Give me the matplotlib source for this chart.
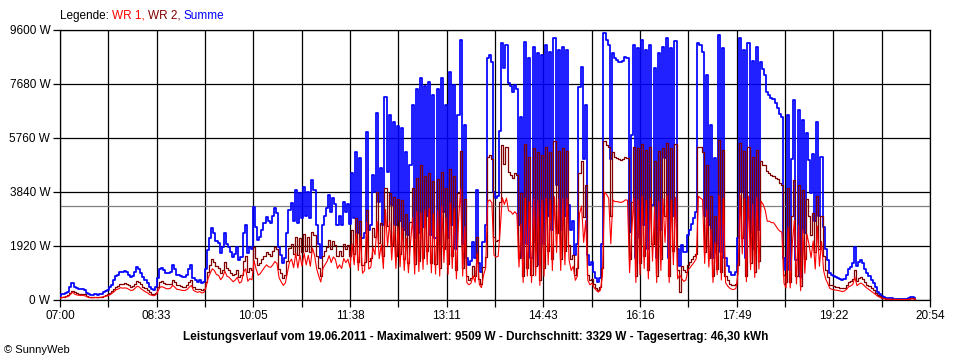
import numpy as np
import matplotlib
matplotlib.use("Agg")
import matplotlib.pyplot as plt

plt.rcParams['font.family'] = ['Liberation Sans', 'DejaVu Sans']

# Leistung in W, alle 2 Minuten ab 07:00 (eine Zeile = eine Stunde)
wr2 = [
    90, 110, 120, 140, 170, 250, 320, 270, 240, 230, 220, 220, 200, 140, 110, 100, 100, 110, 100, 110, 120, 160, 190, 200, 260, 310, 400, 480, 510, 560,
    580, 600, 580, 520, 480, 500, 580, 680, 640, 560, 480, 410, 350, 270, 230, 200, 260, 470, 640, 660, 610, 560, 560, 580, 720, 640, 520, 520, 500, 480,
    480, 520, 640, 720, 460, 400, 380, 400, 350, 380, 650, 1000, 1250, 1450, 1350, 1200, 1150, 950, 1080, 1350, 1150, 1080, 970, 880, 940, 1080, 820, 880, 1400, 1560,
    1000, 1130, 1080, 1900, 1500, 1250, 1300, 1450, 1580, 1700, 1620, 1580, 1750, 1900, 1800, 1100, 950, 800, 900, 1400, 1850, 2000, 1650, 2250, 1600, 2200, 1700, 2350, 1750, 2250,
    1700, 2420, 2300, 1550, 1150, 850, 1550, 1750, 1900, 2150, 1800, 2100, 1950, 1550, 1750, 1550, 2000, 1800, 1950, 1550, 2500, 1650, 2900, 1350, 2800, 1250, 1350, 3200, 1400, 1500,
    2570, 2230, 3850, 2030, 2730, 1550, 4000, 2640, 3800, 1960, 3670, 1550, 3600, 1620, 3550, 1450, 3050, 1330, 2780, 4000, 1280, 4350, 1390, 4800, 1510, 4400, 1740, 4500, 1330, 4230,
    1280, 4300, 1150, 4550, 1800, 4000, 1280, 4650, 1550, 4400, 1050, 3800, 5300, 1150, 3600, 870, 700, 800, 1200, 870, 2250, 750, 560, 1180, 1540, 5100, 5150, 5000, 2250, 2100,
    2150, 3500, 5500, 4850, 5450, 4550, 4450, 4350, 4500, 4450, 1500, 3800, 870, 5550, 1150, 5100, 880, 5400, 1200, 5250, 720, 5150, 1150, 5450, 1750, 5250, 1450, 5650, 2400, 5300,
    1450, 5400, 1750, 5300, 1950, 1450, 1600, 900, 1150, 4500, 4950, 2950, 4100, 900, 700, 750, 560, 430, 360, 450, 1150, 5650, 5500, 5450, 3000, 5250, 5100, 5050, 5000, 4980,
    5000, 5080, 5050, 1450, 3500, 5450, 870, 5400, 1300, 5550, 1550, 5350, 1050, 5450, 2000, 4950, 870, 5300, 1450, 5400, 3000, 5600, 870, 5400, 1750, 5550, 1050, 300, 1200, 1050,
    1000, 1250, 1350, 1450, 1550, 1650, 5450, 5450, 5250, 1700, 4800, 1500, 3700, 870, 3000, 1100, 5700, 1000, 5350, 870, 700, 580, 520, 520, 580, 1250, 5600, 2200, 5300, 850,
    5450, 1300, 5100, 1000, 5350, 1400, 4950, 4800, 4800, 4600, 4500, 4450, 4400, 4350, 4300, 4150, 4100, 900, 640, 4000, 640, 3000, 4270, 850, 4100, 490, 3900, 1450, 3600, 3000,
    2300, 3100, 1700, 3700, 1800, 3000, 1550, 1050, 830, 550, 520, 490, 470, 460, 440, 420, 430, 520, 630, 670, 750, 1080, 690, 780, 820, 750, 630, 550, 490, 410,
    350, 260, 170, 125, 85, 55, 45, 40, 35, 35, 30, 30, 25, 25, 25, 25, 25, 35, 65, 60, 35,
]
wr1 = [
    60, 90, 100, 110, 130, 200, 280, 210, 180, 170, 160, 160, 150, 110, 90, 80, 80, 90, 80, 90, 100, 120, 140, 150, 190, 240, 300, 370, 390, 440,
    420, 430, 420, 380, 340, 350, 420, 490, 460, 390, 340, 290, 250, 190, 170, 150, 190, 330, 460, 470, 440, 400, 400, 420, 520, 460, 380, 370, 350, 340,
    340, 380, 460, 520, 340, 300, 270, 300, 250, 270, 450, 780, 950, 1110, 1050, 900, 880, 720, 820, 1030, 850, 810, 730, 650, 710, 810, 600, 650, 1000, 1110,
    670, 760, 720, 1400, 1100, 880, 940, 1050, 1160, 1250, 1180, 1160, 1250, 1370, 1300, 790, 650, 520, 600, 980, 1350, 1450, 1150, 1660, 1140, 1600, 1200, 1670, 1250, 1590,
    1200, 1850, 1600, 1120, 850, 640, 1120, 1250, 1370, 1580, 1330, 1530, 1450, 1120, 1250, 1120, 1480, 1330, 1450, 1150, 2000, 1250, 2360, 1050, 2250, 950, 1050, 2770, 1100, 1170,
    1870, 1610, 2800, 1470, 1970, 1120, 3220, 1910, 2780, 1420, 2660, 1120, 2600, 1180, 2570, 1050, 2210, 970, 2020, 2930, 920, 3150, 1010, 3100, 1090, 3200, 1260, 3250, 970, 3070,
    920, 3200, 850, 3340, 1330, 2930, 920, 3460, 1120, 3240, 750, 2780, 3950, 850, 2620, 620, 540, 600, 860, 630, 1660, 550, 440, 880, 1130, 3500, 3560, 3460, 1590, 1530,
    1550, 2500, 3640, 3400, 3620, 3170, 3150, 3050, 3140, 3050, 1170, 2700, 620, 3620, 850, 3500, 620, 3600, 860, 3550, 520, 3550, 850, 3620, 1250, 3570, 1050, 3670, 1690, 3590,
    1050, 3600, 1250, 3600, 1430, 1050, 1200, 700, 850, 3070, 3340, 2050, 2830, 700, 540, 600, 440, 350, 280, 350, 850, 3840, 3750, 3620, 2000, 3550, 3500, 3500, 3480, 3470,
    3500, 3560, 3550, 970, 2370, 3620, 620, 3560, 900, 3700, 1120, 3540, 750, 3620, 1380, 3300, 620, 3500, 1050, 3600, 2050, 3720, 620, 3560, 1250, 3650, 750, 900, 760, 660,
    710, 1060, 1150, 1250, 1350, 1480, 3690, 3620, 3570, 1300, 3200, 1170, 2520, 620, 2050, 900, 3720, 710, 3610, 620, 500, 420, 380, 370, 420, 950, 3720, 1640, 3600, 650,
    3690, 1080, 3400, 800, 3650, 1100, 3510, 3400, 3200, 2800, 2800, 2750, 2750, 2650, 2530, 2450, 2410, 600, 430, 2580, 430, 2000, 2840, 570, 2660, 330, 2500, 950, 2340, 1980,
    1500, 2100, 1100, 2630, 1200, 2080, 1050, 750, 590, 410, 380, 360, 350, 340, 320, 300, 320, 380, 470, 500, 550, 810, 510, 570, 600, 550, 470, 410, 360, 300,
    250, 190, 130, 95, 65, 45, 35, 30, 25, 25, 20, 20, 15, 15, 15, 15, 15, 25, 45, 40, 25,
]
assert len(wr1) == len(wr2) == 411
summe = [a + b for a, b in zip(wr1, wr2)]
minutes = np.arange(len(wr1)) * 2

durchschnitt = 3329
xlabels = ['07:00', '08:33', '10:05', '11:38', '13:11', '14:43', '16:16', '17:49', '19:22', '20:54']
ylabels = [0, 1920, 3840, 5760, 7680, 9600]

fig = plt.figure(figsize=(9.6, 3.6), dpi=100)
ax = fig.add_axes([60 / 960, 1 - 300 / 360, 870 / 960, 270 / 360])

ax.plot(minutes, summe, color='#0000ff', lw=1.25, drawstyle='steps-mid', zorder=3)
ax.plot(minutes, wr2, color='#800000', lw=0.9, drawstyle='steps-mid', zorder=4)
ax.plot(minutes, wr1, color='#ff0000', lw=0.8, zorder=5)
ax.axhline(durchschnitt, color='#808080', lw=0.9, zorder=2)

xt = np.linspace(0, 834, len(xlabels))
ax.set_xticks(xt)
ax.set_xticklabels(xlabels)
ax.set_xticks((xt[:-1] + xt[1:]) / 2, minor=True)
ax.set_yticks(ylabels)
ax.set_yticklabels([f'{v} W' for v in ylabels])
ax.set_xlim(0, 834)
ax.set_ylim(0, 9600)

ax.grid(which='both', axis='x', color='black', lw=0.9)
ax.grid(which='major', axis='y', color='black', lw=0.9)
ax.set_axisbelow(True)
for sp in ax.spines.values():
    sp.set_linewidth(0.9)
ax.tick_params(which='both', direction='out', length=5, width=0.9, labelsize=8.5, pad=2)

# Legende: einzelne farbige Textstuecke hintereinander
parts = [('Legende: ', 'black'), ('WR 1, ', '#ff0000'), ('WR 2, ', '#800000'), ('Summe', '#0000ff')]
legend_texts = [fig.text(0, 0, s, fontsize=8.5, color=c, va='bottom') for s, c in parts]
fig.canvas.draw()
r = fig.canvas.get_renderer()
x = 60
for txt in legend_texts:
    bb = txt.get_window_extent(r)
    txt.set_position((x / 960, 1 - 22 / 360))
    x += bb.width

fig.text(476 / 960, 1 - 337 / 360,
         'Leistungsverlauf vom 19.06.2011 - Maximalwert: 9509 W - Durchschnitt: 3329 W - Tagesertrag: 46,30 kWh',
         ha='center', va='center', fontsize=8.5, fontweight='bold')
fig.text(4 / 960, 1 - 350 / 360, '© SunnyWeb', ha='left', va='center', fontsize=8)

fig.savefig('out.png', dpi=100)
